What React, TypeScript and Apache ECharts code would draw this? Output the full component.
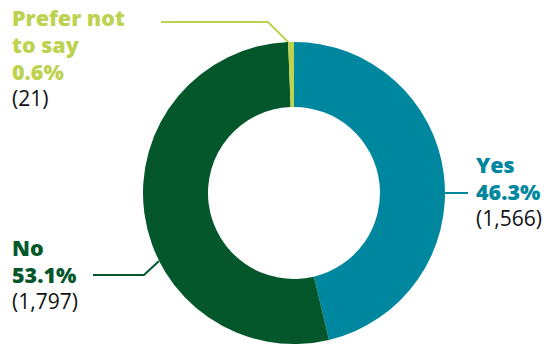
import React, { useEffect, useRef } from "react";
import * as echarts from "echarts";

const categories = ["Yes", "No", "Prefer not to say"];
const counts = [1566, 1797, 21];
const colors = ["#0087A0", "#03572B", "#BDD24F"];
const labelLines = ["Yes", "No", "Prefer not\nto say"];

const FONT = "'Open Sans', 'Noto Sans', sans-serif";

export default function App() {
  const ref = useRef<HTMLDivElement>(null);
  useEffect(() => {
    if (!ref.current) return;
    const chart = echarts.init(ref.current, undefined, { renderer: "svg" });
    const total = counts.reduce((a, b) => a + b, 0);
    const fmtNum = (v: number) => v.toLocaleString("en-US");
    const layouts: Record<number, any> = {
      0: { x: 476, y: 151, pts: [[445, 193], [468, 193]] },
      1: { x: 12, y: 234, pts: [[159, 261], [144, 275], [93, 275]] },
      2: { x: 12, y: 4, pts: [[289, 43], [268, 22], [161, 22]] },
    };
    chart.setOption({
      animation: false,
      series: [
        {
          type: "pie",
          center: [294, 193],
          radius: [86, 151],
          startAngle: 90,
          clockwise: true,
          avoidLabelOverlap: false,
          data: categories.map((c, i) => ({
            name: c,
            value: counts[i],
            itemStyle: { color: colors[i] },
            label: {
              rich: {
                b: {
                  fontFamily: FONT,
                  fontWeight: 800,
                  fontSize: 21.5,
                  lineHeight: 26.8,
                  color: colors[i],
                },
                n: {
                  fontFamily: FONT,
                  fontWeight: 400,
                  fontSize: 21,
                  lineHeight: 26.8,
                  color: "#111111",
                },
              },
            },
            labelLine: { lineStyle: { color: colors[i], width: 2 } },
          })),
          label: {
            show: true,
            position: "outside",
            align: "left",
            formatter: (p: any) => {
              const i = p.dataIndex;
              const pct = ((counts[i] / total) * 100).toFixed(1) + "%";
              const nameLines = labelLines[i]
                .split("\n")
                .map((s) => `{b|${s}}`)
                .join("\n");
              return `${nameLines}\n{b|${pct}}\n{n|(${fmtNum(counts[i])})}`;
            },
          },
          labelLine: { show: true, length: 10, length2: 20, smooth: false },
          labelLayout: (params: any) => {
            const l = layouts[params.dataIndex];
            return {
              x: l.x,
              y: l.y,
              align: "left",
              verticalAlign: "top",
              labelLinePoints: l.pts,
            };
          },
          emphasis: { disabled: true },
        },
      ],
    });
    return () => chart.dispose();
  }, []);
  return (
    <div
      ref={ref}
      style={{ position: "fixed", left: 0, top: 0, width: 552, height: 345, background: "#ffffff" }}
    />
  );
}
